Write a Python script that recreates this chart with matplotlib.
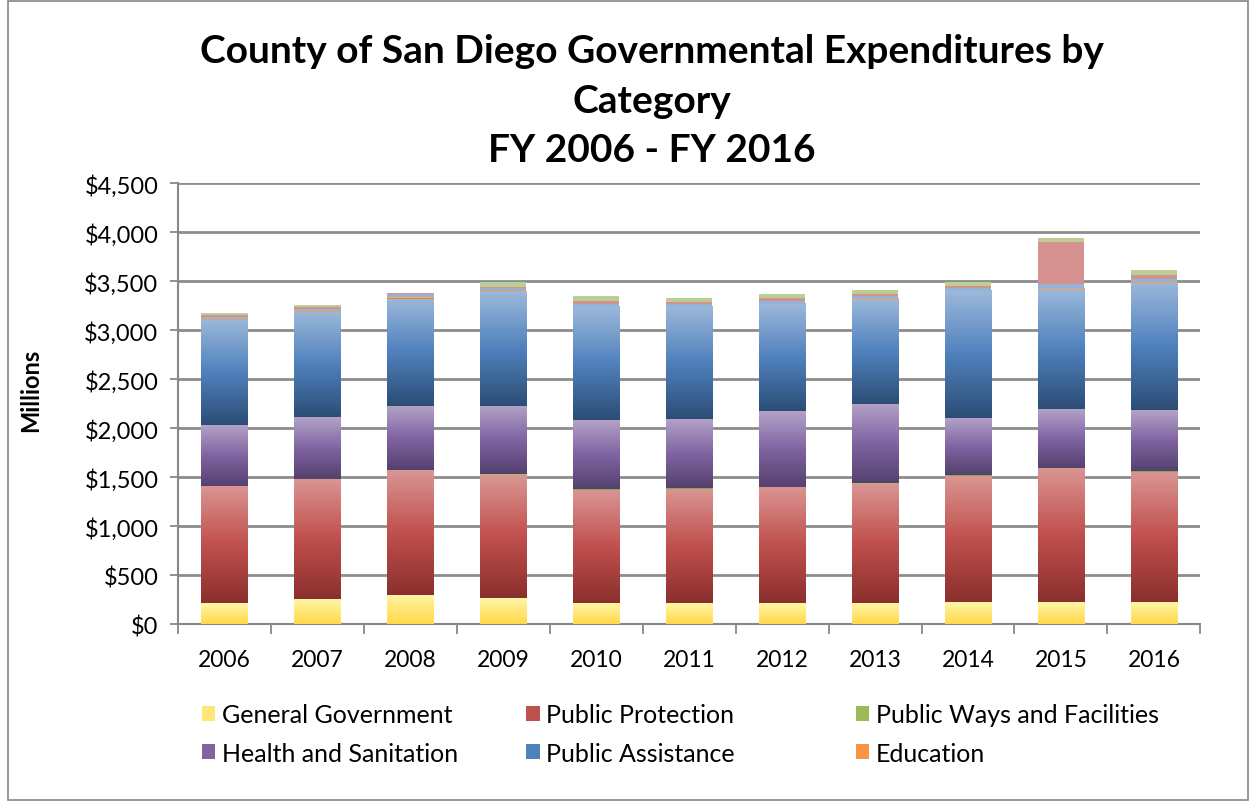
import numpy as np
import matplotlib
matplotlib.use('Agg')
import matplotlib.pyplot as plt
from matplotlib.colors import LinearSegmentedColormap
from matplotlib.patches import Rectangle, Patch

plt.rcParams['font.family'] = ['Lato', 'DejaVu Sans']

years = ['2006', '2007', '2008', '2009', '2010', '2011', '2012', '2013', '2014', '2015', '2016']

# millions of dollars
general_gov = [214, 255, 296, 265, 214, 214, 214, 214, 224, 224, 224]
public_prot = [1194, 1225, 1272, 1255, 1153, 1164, 1184, 1215, 1289, 1368, 1327]
public_ways = [5, 5, 8, 8, 12, 12, 5, 5, 12, 5, 12]
health_san = [618, 627, 648, 696, 703, 702, 770, 811, 577, 597, 621]
public_asst = [1075, 1075, 1096, 1161, 1148, 1143, 1089, 1070, 1293, 1224, 1296]
education = [8, 10, 13, 10, 5, 5, 5, 8, 5, 8, 6]
# unlabeled series stacked on top (not in the legend)
recreation = [20, 20, 30, 34, 35, 30, 30, 27, 27, 44, 34]
capital = [20, 15, 10, 10, 30, 20, 27, 20, 24, 432, 44]
debt = [20, 20, 8, 48, 45, 35, 48, 40, 40, 37, 48]

labels = ['General Government', 'Public Protection', 'Public Ways and Facilities',
          'Health and Sanitation', 'Public Assistance', 'Education']

# (bottom, mid, top) gradient colours
grads = [
    ('#FFD94A', '#FFE777', '#FFF6A8'),
    ('#8A2F2D', '#C0504D', '#DA9694'),
    ('#76923C', '#9BBB59', '#C3D69B'),
    ('#54416E', '#8064A2', '#B3A2C7'),
    ('#2C4D75', '#4F81BD', '#9CB8DA'),
    ('#E46C0A', '#F79646', '#FAC090'),
]
flat = ['#95B3D7', '#D4918F', '#B9CF95']

fig = plt.figure(figsize=(12.53, 8.04), dpi=100)
ax = fig.add_axes([0.142, 0.2226, 0.816, 0.5485])

x = np.arange(len(years))
w = 0.5
bottom = np.zeros(len(years))

grad = np.linspace(0, 1, 256).reshape(-1, 1)
series = [general_gov, public_prot, public_ways, health_san, public_asst, education]
for vals, (cb, cm, ct) in zip(series, grads):
    cmap = LinearSegmentedColormap.from_list('g', [cb, cm, ct])
    for i, v in enumerate(vals):
        ax.imshow(grad, cmap=cmap, origin='lower', aspect='auto', interpolation='bilinear',
                  extent=[x[i] - w / 2, x[i] + w / 2, bottom[i], bottom[i] + v], zorder=3)
    bottom += np.array(vals)

for vals, c in zip([recreation, capital, debt], flat):
    ax.bar(x, vals, w, bottom=bottom, color=c, zorder=3, linewidth=0)
    bottom += np.array(vals)

ax.set_xlim(-0.5, len(years) - 0.5)
ax.set_ylim(0, 4500)
ax.set_yticks(np.arange(0, 4501, 500))
ax.set_yticklabels(['${:,}'.format(v) for v in range(0, 4501, 500)], fontsize=17)
ax.set_xticks(x)
ax.set_xticklabels(years, fontsize=16.5)
ax.tick_params(axis='x', length=0, pad=18)
ax.set_xticks(np.arange(-0.5, len(years), 1), minor=True)
ax.tick_params(axis='x', which='minor', length=7, color='#888888', width=1.3)
ax.tick_params(axis='y', length=6, color='#888888', width=1.3, pad=8)
ax.grid(axis='y', color='#8C8C8C', linewidth=2, zorder=1)
ax.set_axisbelow(True)
for s in ['top', 'right']:
    ax.spines[s].set_visible(False)
for s in ['left', 'bottom']:
    ax.spines[s].set_color('#888888')
    ax.spines[s].set_linewidth(1.5)

ax.set_ylabel('Millions', fontsize=17, fontweight='bold')
ax.yaxis.set_label_coords(-0.133, 0.533)

fig.text(0.52, 0.874, 'County of San Diego Governmental Expenditures by\nCategory\nFY 2006 - FY 2016',
         ha='center', va='center', fontsize=28, fontweight='bold', linespacing=1.5)

# legend: three columns, two rows
cols = [(0, 3), (1, 4), (2, 5)]
col_x = [0.143, 0.402, 0.665]
for (a, b), cx in zip(cols, col_x):
    handles = [Patch(facecolor=grads[k][1], edgecolor='none') for k in (a, b)]
    fig.legend(handles, [labels[a], labels[b]], loc='upper left', bbox_to_anchor=(cx, 0.152),
               frameon=False, fontsize=18, handlelength=0.55, handleheight=0.55,
               handletextpad=0.25, labelspacing=0.62)

fig.patches.append(Rectangle((0.006, 0.004), 0.99, 0.994, transform=fig.transFigure,
                             fill=False, edgecolor='#888888', linewidth=1.2))

fig.savefig('out.png', dpi=100)
